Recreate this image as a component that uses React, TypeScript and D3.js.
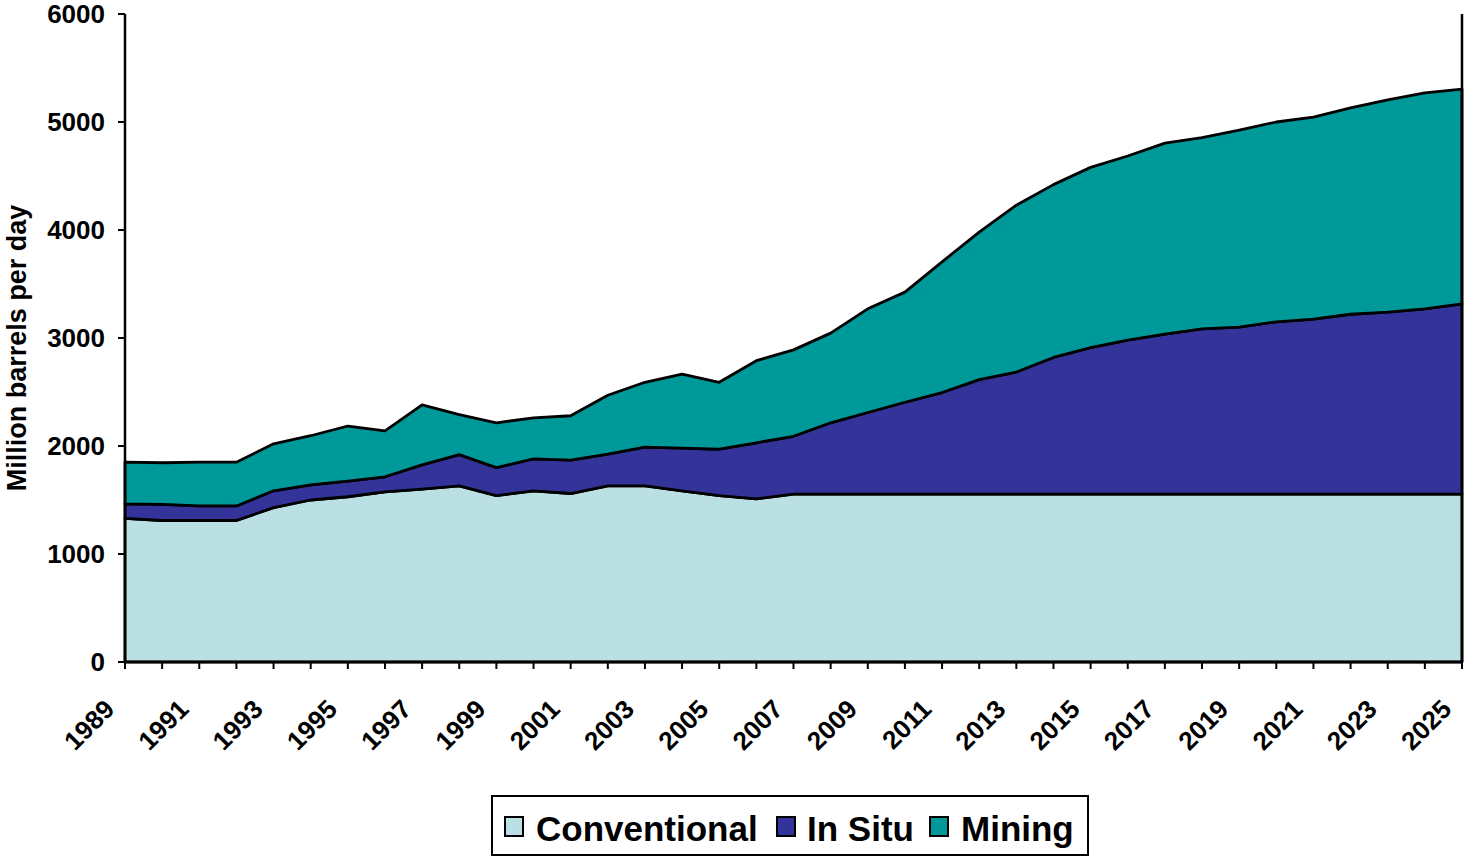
import * as d3 from "d3";
import React from "react";

const years = d3.range(1989, 2026);
const conventional = [
  1330, 1310, 1310, 1310, 1430, 1500, 1530, 1575, 1600, 1630, 1540, 1585, 1560, 1630, 1630, 1585, 1540, 1510,
  1555, 1555, 1555, 1555, 1555, 1555, 1555, 1555, 1555, 1555, 1555, 1555, 1555, 1555, 1555, 1555, 1555, 1555, 1555,
];
const inSitu = [
  135, 150, 135, 135, 155, 140, 145, 140, 225, 290, 260, 295, 310, 295, 360, 395, 430, 520,
  535, 660, 755, 850, 940, 1060, 1130, 1265, 1355, 1425, 1480, 1530, 1545, 1595, 1620, 1665, 1685, 1715, 1760,
];
const mining = [
  385, 385, 405, 405, 435, 455, 510, 425, 555, 370, 415, 380, 410, 545, 600, 685, 620, 760,
  800, 830, 960, 1020, 1210, 1365, 1545, 1600, 1670, 1705, 1770, 1770, 1825, 1850, 1870, 1910, 1965, 2000, 1990,
];
const seriesNames = ["Conventional", "In Situ", "Mining"];
const seriesColors = ["#BBE0E3", "#333399", "#009999"];
const yTicks = [0, 1000, 2000, 3000, 4000, 5000, 6000];

const W = 1464;
const H = 857;
const m = { left: 125, right: 1462, top: 14, bottom: 662 };
const font = "'Liberation Sans', Arial, sans-serif";

export default function App() {
  const rows = years.map((y, i) => ({
    year: y,
    Conventional: conventional[i],
    "In Situ": inSitu[i],
    Mining: mining[i],
  }));
  const stack = d3.stack<any>().keys(seriesNames)(rows);
  const x = d3.scaleLinear().domain([1989, 2025]).range([m.left, m.right]);
  const y = d3.scaleLinear().domain([0, 6000]).range([m.bottom, m.top]);
  const area = d3
    .area<any>()
    .x((d) => x(d.data.year))
    .y0((d) => y(d[0]))
    .y1((d) => y(d[1]));

  // legend layout
  const legendItems = [
    { name: "Conventional", sq: 505, tx: 536 },
    { name: "In Situ", sq: 777, tx: 807 },
    { name: "Mining", sq: 930, tx: 961 },
  ];

  return (
    <>
      <style>{`body{margin:0}`}</style>
      <svg width={W} height={H} style={{ display: "block", background: "#fff" }} fontFamily={font}>
        {stack.map((s, i) => (
          <path
            key={s.key}
            d={area(s) as string}
            fill={seriesColors[i]}
            stroke="#000"
            strokeWidth={2.8}
            strokeLinejoin="round"
          />
        ))}
        <line x1={m.right} x2={m.right} y1={m.top} y2={m.bottom} stroke="#000" strokeWidth={2.5} />

        {/* y axis */}
        <line x1={m.left} x2={m.left} y1={m.top} y2={m.bottom} stroke="#000" strokeWidth={2.5} />
        {yTicks.map((t) => (
          <g key={t}>
            <line x1={m.left - 7} x2={m.left} y1={y(t)} y2={y(t)} stroke="#000" strokeWidth={2} />
            <text x={105} y={y(t)} dy="0.36em" textAnchor="end" fontSize={26} fontWeight="bold">
              {t}
            </text>
          </g>
        ))}
        <text
          transform={`translate(26,348) rotate(-90)`}
          textAnchor="middle"
          fontSize={27}
          fontWeight="bold"
        >
          Million barrels per day
        </text>

        {/* x axis */}
        <line x1={m.left} x2={m.right} y1={m.bottom} y2={m.bottom} stroke="#000" strokeWidth={2.5} />
        {years.map((yr) => (
          <line key={yr} x1={x(yr)} x2={x(yr)} y1={m.bottom} y2={m.bottom + 7} stroke="#000" strokeWidth={2} />
        ))}
        {years
          .filter((yr) => (yr - 1989) % 2 === 0)
          .map((yr) => (
            <text
              key={yr}
              transform={`translate(${x(yr) - 22},${m.bottom + 36}) rotate(-45)`}
              textAnchor="end"
              dy="0.7em"
              fontSize={26}
              fontWeight="bold"
            >
              {yr}
            </text>
          ))}

        {/* legend */}
        <rect x={492} y={796} width={596} height={59} fill="#fff" stroke="#000" strokeWidth={2} />
        {legendItems.map((it, i) => (
          <g key={it.name}>
            <rect x={it.sq} y={817} width={18} height={19} fill={seriesColors[i]} stroke="#000" strokeWidth={2} />
            <text x={it.tx} y={841} fontSize={35} fontWeight="bold">
              {it.name}
            </text>
          </g>
        ))}
      </svg>
    </>
  );
}
